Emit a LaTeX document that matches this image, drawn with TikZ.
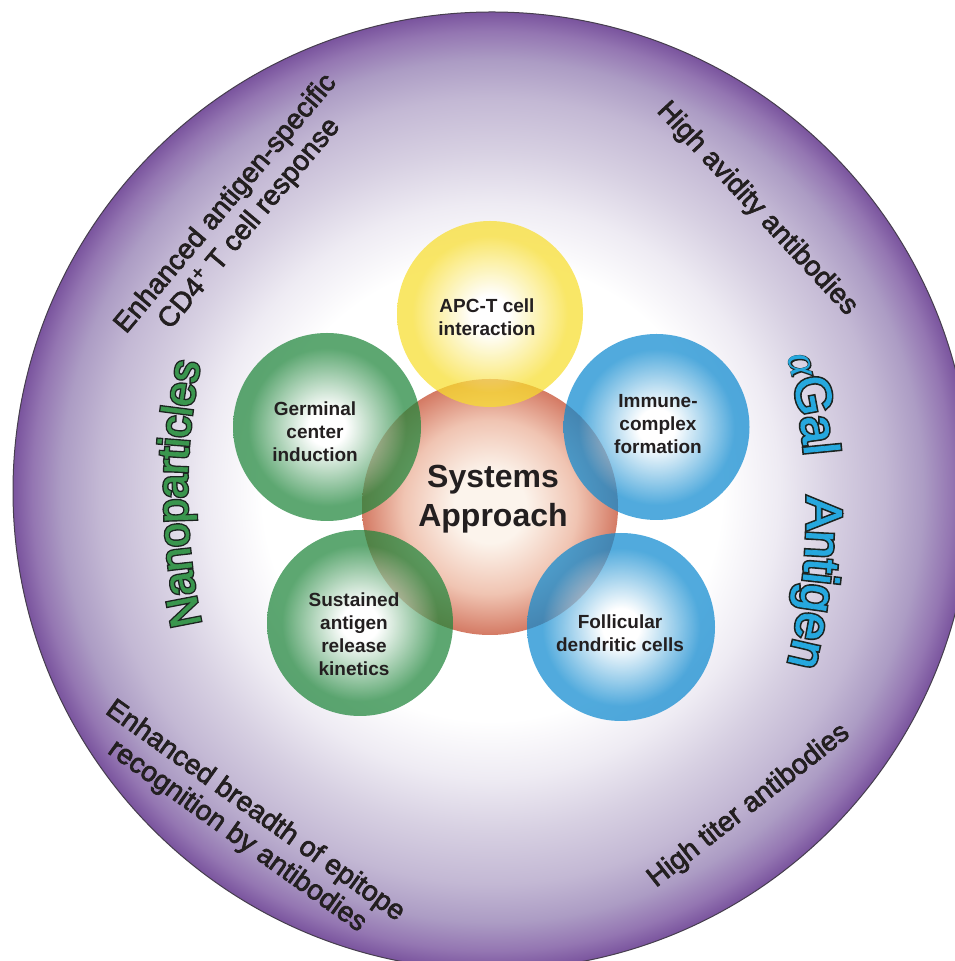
\documentclass[tikz,border=0pt]{standalone}
\usepackage{fontspec}
\setmainfont{Liberation Sans}
\newfontfamily\labelsans[FakeBold=2.5]{Liberation Sans}
\newfontfamily\plainsans[FakeBold=1.5]{Liberation Sans}
\newfontfamily\outlinesans[FakeBold=8]{Liberation Sans}
\newfontfamily\greekserif{Liberation Serif}
\newfontfamily\greekoutline[FakeBold=4]{Liberation Serif}
\usetikzlibrary{decorations.text}

\definecolor{ink}{RGB}{35,31,32}
\definecolor{rimline}{RGB}{70,62,78}
\definecolor{ringA}{RGB}{238,235,243}
\definecolor{ringB}{RGB}{215,208,226}
\definecolor{ringC}{RGB}{195,184,212}
\definecolor{ringD}{RGB}{172,156,196}
\definecolor{ringE}{RGB}{148,118,178}
\definecolor{ringF}{RGB}{122,84,158}
\definecolor{nanogreen}{RGB}{58,150,78}
\definecolor{galblue}{RGB}{38,168,222}
\definecolor{outl}{RGB}{28,36,32}
\definecolor{greenedge}{RGB}{31,134,59}
\definecolor{blueedge}{RGB}{14,138,208}
\definecolor{yellowedge}{RGB}{248,222,45}
\definecolor{rededge}{RGB}{212,122,100}
\definecolor{redmid}{RGB}{240,196,178}
\definecolor{redcore}{RGB}{252,244,236}

\pgfdeclareradialshading{ringshade}{\pgfpoint{0bp}{0bp}}{color(0bp)=(white); color(12bp)=(white); color(15bp)=(ringA); color(17.75bp)=(ringB); color(20.5bp)=(ringC); color(22.5bp)=(ringD); color(24bp)=(ringE); color(25bp)=(ringF); color(50bp)=(ringF)}
\pgfdeclareradialshading{greenball}{\pgfpoint{0bp}{0bp}}{color(0bp)=(white); color(5bp)=(white); color(21bp)=(greenedge); color(25bp)=(greenedge); color(50bp)=(greenedge)}
\pgfdeclareradialshading{blueball}{\pgfpoint{0bp}{0bp}}{color(0bp)=(white); color(5bp)=(white); color(21bp)=(blueedge); color(25bp)=(blueedge); color(50bp)=(blueedge)}
\pgfdeclareradialshading{yellowball}{\pgfpoint{0bp}{0bp}}{color(0bp)=(white); color(5bp)=(white); color(21bp)=(yellowedge); color(25bp)=(yellowedge); color(50bp)=(yellowedge)}
\pgfdeclareradialshading{redball}{\pgfpoint{0bp}{0bp}}{color(0bp)=(redcore); color(7bp)=(redcore); color(17bp)=(redmid); color(25bp)=(rededge); color(50bp)=(rededge)}

\tikzset{
  ball/.style={circle, inner sep=0pt, outer sep=0pt, opacity=0.72},
  outerlabel/.style={text=ink, font=\labelsans\fontsize{28}{31}\selectfont, inner sep=0pt, align=center},
  balllabel/.style={text=ink, font=\bfseries\fontsize{19}{23}\selectfont, inner sep=0pt, align=center},
  centrelabel/.style={text=ink, font=\bfseries\fontsize{32}{39}\selectfont, inner sep=0pt, align=center},
}

\begin{document}
\begin{tikzpicture}[x=1pt,y=1pt]
\useasboundingbox (0,0) rectangle (955,961);
\fill[white] (0,0) rectangle (955,961);

% outer ring
\begin{scope}
\clip (0,0) rectangle (955,961);
\node[circle, inner sep=0pt, minimum size=958pt, shading=ringshade, draw=rimline, line width=1pt] (ring) at (492,470) {};
\end{scope}

% outer texts
\node[outerlabel, rotate=50] (cdfour) at (238,747) {Enhanced antigen-specific\\CD4\textsuperscript{+} T cell response};
\node[outerlabel, rotate=-47] (avidity) at (757,752) {High avidity antibodies};
\node[outerlabel, rotate=38] (titer) at (749,155) {High titer antibodies};
\node[outerlabel, rotate=-35.5] (breadth) at (246,137) {Enhanced breadth of epitope\\recognition by antibodies};

% curved titles
\coordinate (nanoC) at (807,470);
\coordinate (galC) at (187,450);
\path[decorate, decoration={text along path, text align=center, text color=outl,
  text={|\outlinesans\fontsize{43}{43}\selectfont|Nanoparticles}}]
  (nanoC) ++(193:620) arc[start angle=193, end angle=167.5, radius=620];
\path[decorate, decoration={text along path, text align=center, text color=nanogreen,
  text={|\plainsans\fontsize{43}{43}\selectfont|Nanoparticles}}]
  (nanoC) ++(193:620) arc[start angle=193, end angle=167.5, radius=620];

\path[decorate, decoration={text along path, text align=center, text color=outl,
  text={|\greekoutline\itshape\fontsize{44}{44}\selectfont|α|\outlinesans\fontsize{50}{50}\selectfont|Gal}}]
  (galC) ++(18:620) arc[start angle=18, end angle=1.5, radius=620];
\path[decorate, decoration={text along path, text align=center, text color=galblue,
  text={|\greekserif\itshape\fontsize{44}{44}\selectfont|α|\plainsans\fontsize{50}{50}\selectfont|Gal}}]
  (galC) ++(18:620) arc[start angle=18, end angle=1.5, radius=620];
\path[decorate, decoration={text along path, text align=center, text color=outl,
  text={|\outlinesans\fontsize{50}{50}\selectfont|Antigen}}]
  (galC) ++(4:620) arc[start angle=4, end angle=-17, radius=620];
\path[decorate, decoration={text along path, text align=center, text color=galblue,
  text={|\plainsans\fontsize{50}{50}\selectfont|Antigen}}]
  (galC) ++(4:620) arc[start angle=4, end angle=-17, radius=620];

% central circle and satellites
\node[circle, inner sep=0pt, minimum size=256pt, shading=redball] (systems) at (490,454) {};
\node[ball, minimum size=186pt, shading=yellowball] (apc) at (490,647) {};
\node[ball, minimum size=188pt, shading=greenball] (germinal) at (327,534) {};
\node[ball, minimum size=186pt, shading=greenball] (sustained) at (360,338) {};
\node[ball, minimum size=186pt, shading=blueball] (immune) at (656.5,534) {};
\node[ball, minimum size=188pt, shading=blueball] (follicular) at (621,334) {};

% labels
\node[balllabel] (apct) at (487,644) {APC-T cell\\interaction};
\node[balllabel] (germt) at (315,529.5) {Germinal\\center\\induction};
\node[balllabel] (sust) at (354,327) {Sustained\\antigen\\release\\kinetics};
\node[balllabel] (immt) at (658,537) {Immune-\\complex\\formation};
\node[balllabel] (follt) at (620,328) {Follicular\\dendritic cells};
\node[centrelabel] (syst) at (493,461.5) {Systems\\Approach};
\end{tikzpicture}
\end{document}
